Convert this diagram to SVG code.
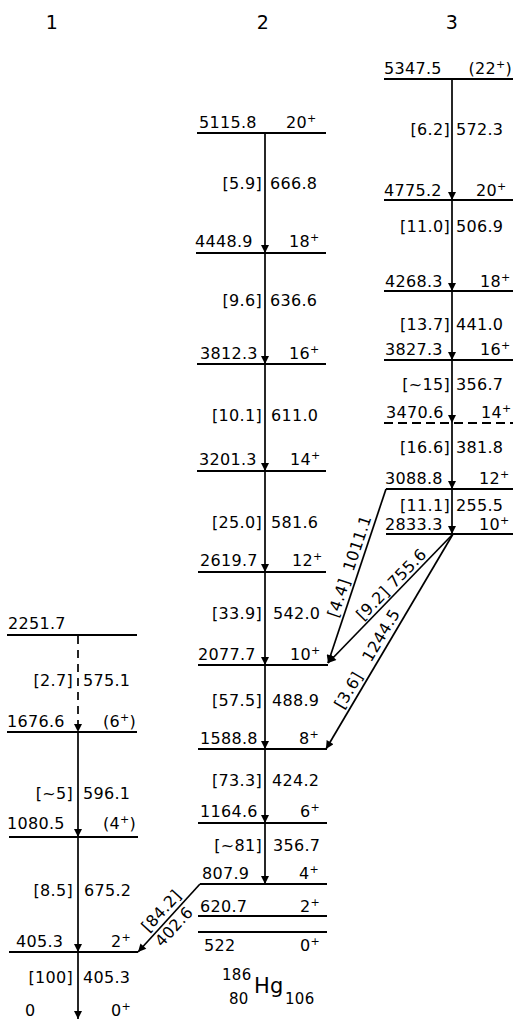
<svg xmlns="http://www.w3.org/2000/svg" width="513" height="1020" viewBox="0 0 513 1020">
<style>
text{font-family:"DejaVu Sans","Liberation Sans",sans-serif;font-size:16px;fill:#000;letter-spacing:0.3px}
.lv{stroke:#000;stroke-width:2;fill:none}
.dl{stroke:#000;stroke-width:2;fill:none;stroke-dasharray:9,5}
.tr{stroke:#000;stroke-width:1.7;fill:none;marker-end:url(#ah)}
.trd{stroke:#000;stroke-width:1.7;fill:none;stroke-dasharray:8,6;marker-end:url(#ah)}
.e{text-anchor:end}
.m{text-anchor:middle}
.hd{font-size:19px}
.s{font-size:11px}
</style>
<defs>
<marker id="ah" viewBox="0 0 10 10" refX="10" refY="5" markerWidth="10" markerHeight="8" markerUnits="userSpaceOnUse" orient="auto"><path d="M0,0 L10,5 L0,10 z" fill="#000"/></marker>
</defs>
<rect width="513" height="1020" fill="#fff"/>

<g id="headers">
<text class="hd m" x="52" y="29">1</text>
<text class="hd m" x="263" y="29">2</text>
<text class="hd m" x="452" y="29">3</text>
</g>

<!-- Column 1 levels -->
<g id="c1-2251">
<line class="lv" x1="7" y1="635" x2="137" y2="635"/>
<text x="8" y="629">2251.7</text>
</g>
<g id="c1-1676">
<line class="lv" x1="7" y1="732" x2="137" y2="732"/>
<text x="7" y="727">1676.6</text>
<text class="e" x="136" y="727">(6<tspan class="s" dy="-6">+</tspan><tspan dy="6">)</tspan></text>
</g>
<g id="c1-1080">
<line class="lv" x1="9" y1="837" x2="138" y2="837"/>
<text x="7" y="829">1080.5</text>
<text class="e" x="136" y="829">(4<tspan class="s" dy="-6">+</tspan><tspan dy="6">)</tspan></text>
</g>
<g id="c1-405">
<line class="lv" x1="9" y1="952" x2="138" y2="952"/>
<text x="16" y="947">405.3</text>
<text x="111" y="947">2<tspan class="s" dy="-6">+</tspan></text>
</g>
<g id="c1-0">
<text x="25" y="1016">0</text>
<text x="111" y="1016">0<tspan class="s" dy="-6">+</tspan></text>
</g>

<!-- Column 2 levels -->
<g id="c2-5115">
<line class="lv" x1="197" y1="133" x2="326" y2="133"/>
<text x="199" y="128">5115.8</text>
<text x="286" y="128">20<tspan class="s" dy="-6">+</tspan></text>
</g>
<g id="c2-4448">
<line class="lv" x1="196" y1="253" x2="326" y2="253"/>
<text x="195" y="247">4448.9</text>
<text x="289" y="247">18<tspan class="s" dy="-6">+</tspan></text>
</g>
<g id="c2-3812">
<line class="lv" x1="197" y1="364" x2="326" y2="364"/>
<text x="200" y="359">3812.3</text>
<text x="289" y="359">16<tspan class="s" dy="-6">+</tspan></text>
</g>
<g id="c2-3201">
<line class="lv" x1="197" y1="471" x2="326" y2="471"/>
<text x="199" y="465">3201.3</text>
<text x="290" y="465">14<tspan class="s" dy="-6">+</tspan></text>
</g>
<g id="c2-2619">
<line class="lv" x1="198" y1="572" x2="326" y2="572"/>
<text x="200" y="566">2619.7</text>
<text x="292" y="566">12<tspan class="s" dy="-6">+</tspan></text>
</g>
<g id="c2-2077">
<line class="lv" x1="198" y1="665" x2="328" y2="665"/>
<text x="198" y="660">2077.7</text>
<text x="290" y="660">10<tspan class="s" dy="-6">+</tspan></text>
</g>
<g id="c2-1588">
<line class="lv" x1="198" y1="749" x2="327" y2="749"/>
<text x="200" y="744">1588.8</text>
<text x="299" y="744">8<tspan class="s" dy="-6">+</tspan></text>
</g>
<g id="c2-1164">
<line class="lv" x1="198" y1="823" x2="327" y2="823"/>
<text x="200" y="817">1164.6</text>
<text x="300" y="817">6<tspan class="s" dy="-6">+</tspan></text>
</g>
<g id="c2-807">
<line class="lv" x1="200" y1="884" x2="327" y2="884"/>
<text x="202" y="879">807.9</text>
<text x="299" y="879">4<tspan class="s" dy="-6">+</tspan></text>
</g>
<g id="c2-620">
<line class="lv" x1="198" y1="916" x2="327" y2="916"/>
<text x="200" y="912">620.7</text>
<text x="300" y="912">2<tspan class="s" dy="-6">+</tspan></text>
</g>
<g id="c2-522">
<line class="lv" x1="198" y1="932" x2="327" y2="932"/>
<text x="204" y="951">522</text>
<text x="300" y="951">0<tspan class="s" dy="-6">+</tspan></text>
</g>
<g id="nucleus">
<text x="222" y="980" style="font-size:15px">186</text>
<text x="254" y="993" style="font-size:21px">Hg</text>
<text x="229" y="1004" style="font-size:15px">80</text>
<text x="285" y="1004" style="font-size:15px">106</text>
</g>

<!-- Column 3 levels -->
<g id="c3-5347">
<line class="lv" x1="384" y1="79" x2="513" y2="79"/>
<text x="384" y="74">5347.5</text>
<text class="e" x="512" y="74">(22<tspan class="s" dy="-6">+</tspan><tspan dy="6">)</tspan></text>
</g>
<g id="c3-4775">
<line class="lv" x1="384" y1="200" x2="513" y2="200"/>
<text x="384" y="196">4775.2</text>
<text x="476" y="196">20<tspan class="s" dy="-6">+</tspan></text>
</g>
<g id="c3-4268">
<line class="lv" x1="384" y1="291" x2="513" y2="291"/>
<text x="385" y="287">4268.3</text>
<text x="480" y="287">18<tspan class="s" dy="-6">+</tspan></text>
</g>
<g id="c3-3827">
<line class="lv" x1="384" y1="360" x2="513" y2="360"/>
<text x="385" y="355">3827.3</text>
<text x="480" y="355">16<tspan class="s" dy="-6">+</tspan></text>
</g>
<g id="c3-3470">
<line class="dl" x1="384" y1="423" x2="513" y2="423"/>
<text x="386" y="418">3470.6</text>
<text x="481" y="418">14<tspan class="s" dy="-6">+</tspan></text>
</g>
<g id="c3-3088">
<line class="lv" x1="386" y1="489" x2="513" y2="489"/>
<text x="385" y="484">3088.8</text>
<text x="479" y="484">12<tspan class="s" dy="-6">+</tspan></text>
</g>
<g id="c3-2833">
<line class="lv" x1="386" y1="534" x2="513" y2="534"/>
<text x="385" y="530">2833.3</text>
<text x="479" y="530">10<tspan class="s" dy="-6">+</tspan></text>
</g>

<!-- Connectors -->
<g id="connectors">
<!-- column 1 -->
<line class="trd" x1="78" y1="636" x2="78" y2="732"/>
<line class="tr" x1="78" y1="732" x2="78" y2="837"/>
<line class="tr" x1="78" y1="837" x2="78" y2="952"/>
<line class="tr" x1="78" y1="952" x2="78" y2="1019"/>
<text class="e" x="73" y="686">[2.7]</text><text x="83" y="686">575.1</text>
<text class="e" x="73" y="799">[~5]</text><text x="83" y="799">596.1</text>
<text class="e" x="73" y="896">[8.5]</text><text x="84" y="896">675.2</text>
<text class="e" x="73" y="983">[100]</text><text x="83" y="983">405.3</text>
<!-- column 2 -->
<line class="tr" x1="265" y1="133" x2="265" y2="253"/>
<line class="tr" x1="265" y1="253" x2="265" y2="364"/>
<line class="tr" x1="265" y1="364" x2="265" y2="471"/>
<line class="tr" x1="265" y1="471" x2="265" y2="572"/>
<line class="tr" x1="265" y1="572" x2="265" y2="665"/>
<line class="tr" x1="265" y1="665" x2="265" y2="749"/>
<line class="tr" x1="265" y1="749" x2="265" y2="823"/>
<line class="tr" x1="265" y1="823" x2="265" y2="884"/>
<text class="e" x="262" y="189">[5.9]</text><text x="270" y="189">666.8</text>
<text class="e" x="262" y="306">[9.6]</text><text x="270" y="306">636.6</text>
<text class="e" x="262" y="421">[10.1]</text><text x="271" y="421">611.0</text>
<text class="e" x="262" y="528">[25.0]</text><text x="271" y="528">581.6</text>
<text class="e" x="262" y="619">[33.9]</text><text x="273" y="619">542.0</text>
<text class="e" x="262" y="706">[57.5]</text><text x="272" y="706">488.9</text>
<text class="e" x="262" y="786">[73.3]</text><text x="272" y="786">424.2</text>
<text class="e" x="262" y="851">[~81]</text><text x="273" y="851">356.7</text>
<!-- column 3 -->
<line class="tr" x1="452" y1="79" x2="452" y2="200"/>
<line class="tr" x1="452" y1="200" x2="452" y2="291"/>
<line class="tr" x1="452" y1="291" x2="452" y2="360"/>
<line class="tr" x1="452" y1="360" x2="452" y2="423"/>
<line class="tr" x1="452" y1="423" x2="452" y2="489"/>
<line class="tr" x1="452" y1="489" x2="452" y2="534"/>
<text class="e" x="450" y="135">[6.2]</text><text x="456" y="135">572.3</text>
<text class="e" x="450" y="232">[11.0]</text><text x="456" y="232">506.9</text>
<text class="e" x="450" y="330">[13.7]</text><text x="456" y="330">441.0</text>
<text class="e" x="450" y="390">[~15]</text><text x="456" y="390">356.7</text>
<text class="e" x="450" y="453">[16.6]</text><text x="456" y="453">381.8</text>
<text class="e" x="450" y="511">[11.1]</text><text x="456" y="511">255.5</text>
<!-- diagonals -->
<line class="tr" x1="386" y1="489" x2="328" y2="663"/>
<line class="tr" x1="453" y1="534" x2="328" y2="663"/>
<line class="tr" x1="453" y1="534" x2="326" y2="749"/>
<line class="tr" x1="200" y1="884" x2="138" y2="952"/>
<g transform="translate(328,663) rotate(-71.4)">
<text class="m" x="65" y="-5">[4.4]</text><text class="m" x="123" y="-5">1011.1</text>
</g>
<g transform="translate(328,663) rotate(-45.7)">
<text class="m" x="74" y="-4">[9.2]</text><text class="m" x="123" y="-4">755.6</text>
</g>
<g transform="translate(326,749) rotate(-59.4)">
<text class="m" x="62" y="-5">[3.6]</text><text class="m" x="126" y="-5">1244.5</text>
</g>
<g transform="translate(138,952) rotate(-47.6)">
<text class="m" x="46" y="-5">[84.2]</text><text class="m" x="43" y="15">402.6</text>
</g>
</g>
</svg>
